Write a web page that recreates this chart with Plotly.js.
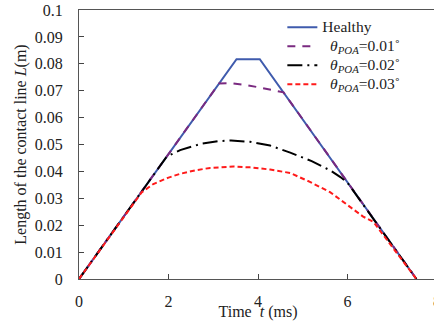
<!DOCTYPE html>
<html>
<head>
<meta charset="utf-8">
<script src="https://cdn.plot.ly/plotly-3.0.1.min.js"></script>
<style>
html,body{margin:0;padding:0;overflow:hidden;background:#fff;}
#chart{width:450px;height:321px;}
</style>
</head>
<body>
<div id="chart"></div>
<script>
// Time (ms) and contact line length L (m)
const healthyT = [0, 3.52, 4.04, 7.54];
const healthyL = [0, 0.0817, 0.0817, 0];

const poa001T = [0, 3.13, 3.4, 3.7, 4.0, 4.27, 4.57, 7.54];
const poa001L = [0, 0.0727, 0.0728, 0.0722, 0.0713, 0.0705, 0.0694, 0];

const poa002T = [0, 1.96, 2.26, 2.74, 3.1, 3.4, 3.82, 4.27, 4.72, 5.2, 5.61, 5.85, 6.0, 7.54];
const poa002L = [0, 0.0455, 0.0479, 0.0503, 0.0512, 0.0515, 0.0510, 0.0496, 0.0470, 0.0438, 0.0404, 0.0378, 0.0358, 0];

const poa003T = [0, 1.2, 1.4, 1.66, 2.0, 2.26, 2.6, 2.93, 3.45, 3.82, 4.27, 4.72, 5.16, 5.61, 6.06, 6.35, 6.58, 7.54];
const poa003L = [0, 0.0279, 0.0322, 0.0353, 0.0377, 0.0391, 0.0404, 0.0413, 0.0418, 0.0415, 0.0407, 0.0394, 0.0361, 0.0323, 0.0267, 0.0232, 0.0212, 0];

const seriesNames = ['Healthy',
  '\u00a0\u00a0<i>θ</i><sub><i>POA</i></sub>=0.01˚',
  '\u00a0\u00a0<i>θ</i><sub><i>POA</i></sub>=0.02˚',
  '\u00a0\u00a0<i>θ</i><sub><i>POA</i></sub>=0.03˚'];
const xTicks = [0, 2, 4, 6, 8];

const FONT = 'Liberation Serif, Times New Roman, serif';
const big = s => '<span style="font-size:15.5px">' + s + '</span>';

const traces = [
  {x: healthyT, y: healthyL, name: big(seriesNames[0]), mode: 'lines',
   line: {color: '#3F5BAD', width: 2}},
  {x: poa001T, y: poa001L, name: big(seriesNames[1]), mode: 'lines',
   line: {color: '#7A2A80', width: 2, dash: '8px,7px'}},
  {x: poa002T, y: poa002L, name: big(seriesNames[2]), mode: 'lines',
   line: {color: '#000000', width: 2, dash: '15px,5px,2px,5px'}},
  {x: poa003T, y: poa003L, name: big(seriesNames[3]), mode: 'lines',
   line: {color: '#FF1A1A', width: 2, dash: '5px,3px'}}
];

const layout = {
  width: 450, height: 321,
  margin: {l: 79, r: 13, t: 10, b: 42, pad: 0},
  paper_bgcolor: '#fff', plot_bgcolor: '#fff',
  font: {family: FONT, size: 16, color: '#222'},
  showlegend: true,
  legend: {x: 0.568, y: 0.99, xanchor: 'left', yanchor: 'top',
           bgcolor: 'rgba(0,0,0,0)', font: {family: FONT, size: 12, color: '#222'},
           tracegroupgap: 0},
  xaxis: {
    range: [0, 8], tickvals: xTicks, ticktext: xTicks.map(String),
    ticks: 'inside', ticklen: 5, tickcolor: '#444',
    showline: true, linecolor: '#555', linewidth: 1, mirror: true,
    showgrid: false, zeroline: false,
    tickfont: {family: FONT, size: 16, color: '#222'},
    ticklabelstandoff: 8,
    title: {text: 'Time \u00a0<i>t</i> (ms)', font: {family: FONT, size: 16, color: '#222'}, standoff: 0}
  },
  yaxis: {
    range: [0, 0.1], dtick: 0.01, tick0: 0,
    ticks: 'inside', ticklen: 5, tickcolor: '#444',
    showline: true, linecolor: '#555', linewidth: 1, mirror: true,
    showgrid: false, zeroline: false,
    tickfont: {family: FONT, size: 16, color: '#222'},
    ticklabelstandoff: 12,
    title: {text: 'Length of the contact line <i>L</i>(m)', font: {family: FONT, size: 16, color: '#222'}, standoff: 4}
  }
};

Plotly.newPlot('chart', traces, layout, {displayModeBar: false, staticPlot: true});
</script>
</body>
</html>
